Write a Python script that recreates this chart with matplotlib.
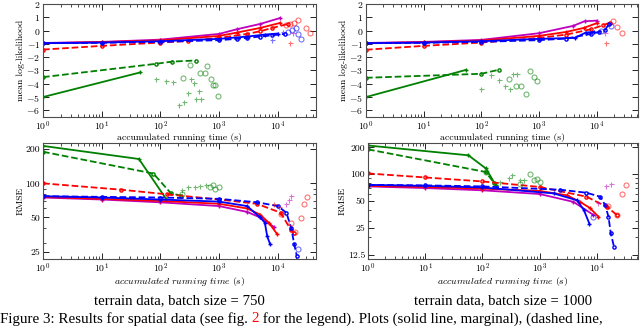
import numpy as np
import matplotlib
matplotlib.use("Agg")
import matplotlib.pyplot as plt
from matplotlib.ticker import FixedLocator, FixedFormatter, LogLocator, NullFormatter

plt.rcParams.update({
    "font.family": "serif",
    "font.serif": ["cmr10", "DejaVu Serif"],
    "mathtext.fontset": "cm",
    "axes.unicode_minus": False,
    "axes.formatter.use_mathtext": True,
    "xtick.direction": "in",
    "ytick.direction": "in",
    "xtick.top": True,
    "ytick.right": True,
    "font.size": 7,
})

GREEN, RED, MAG, BLUE = (0, 0.5, 0), (1, 0, 0), (0.75, 0, 0.75), (0, 0, 1)

# ---- mean log-likelihood, batch 750 ----
ll750_mag_t = [1, 10, 100, 1000, 2000, 5000, 11000]
ll750_mag_y = [-0.93, -0.85, -0.68, -0.25, 0.1, 0.5, 0.95]
ll750_red_t = [1, 10, 100, 1000, 2000, 5000, 11000]
ll750_red_y = [-0.95, -0.87, -0.74, -0.4, -0.15, 0.2, 0.58]
ll750_redd_t = [1, 10, 100, 300, 1000, 3000, 5000, 8000, 15000]
ll750_redd_y = [-1.43, -1.15, -0.9, -0.78, -0.55, -0.25, -0.05, 0.2, 0.5]
ll750_blue_t = [1, 10, 100, 1000, 3000, 6000, 10000]
ll750_blue_y = [-0.95, -0.9, -0.8, -0.62, -0.45, -0.3, -0.22]
ll750_blued_t = [1, 10, 100, 1000, 2000, 3000, 5000, 8000, 13000]
ll750_blued_y = [-0.95, -0.92, -0.85, -0.72, -0.62, -0.55, -0.45, -0.35, -0.25]
ll750_green_t = [1, 45]
ll750_green_y = [-5.0, -3.15]
ll750_greend_t = [1, 84, 160, 400]
ll750_greend_y = [-3.5, -2.5, -2.33, -2.25]
ll750_go_t = [316, 240, 480, 565, 620, 720, 790, 850, 960]
ll750_go_y = [-2.62, -3.57, -3.2, -3.2, -2.69, -3.63, -4.08, -4.1, -4.89]
ll750_gp_t = [84, 125, 166, 330, 370, 290, 450, 250, 206, 400, 490]
ll750_gp_y = [-3.67, -3.82, -3.9, -3.67, -3.93, -4.66, -4.55, -5.34, -5.57, -5.16, -5.16]
ll750_ro_t = [14000, 16000, 18600, 22400, 30400, 35700]
ll750_ro_y = [0.45, 0.5, 0.58, 0.78, 0.18, -0.17]
ll750_rp_t = [16200]
ll750_rp_y = [-0.9]
ll750_bo_t = [15000, 17300, 20000, 22200, 25000]
ll750_bo_y = [-0.1, 0.03, 0.17, -0.28, -0.63]
ll750_bp_t = [7900, 12300]
ll750_bp_y = [-0.74, -0.1]
ll750_mp_t = [18000]
ll750_mp_y = [-0.15]

# ---- mean log-likelihood, batch 1000 ----
ll1000_mag_t = [1, 10, 100, 1000, 3900, 6200, 10000]
ll1000_mag_y = [-0.93, -0.85, -0.7, -0.2, 0.35, 0.7, 0.75]
ll1000_red_t = [1, 10, 100, 1000, 3000, 6000, 10000]
ll1000_red_y = [-0.95, -0.88, -0.75, -0.4, -0.1, 0.2, 0.55]
ll1000_redd_t = [1, 10, 100, 1000, 3000, 8000, 13000, 17000]
ll1000_redd_y = [-1.44, -1.15, -0.9, -0.55, -0.3, 0.1, 0.4, 0.6]
ll1000_blue_t = [1, 10, 100, 1000, 4200, 6500, 9000]
ll1000_blue_y = [-0.95, -0.9, -0.8, -0.62, -0.55, -0.15, -0.1]
ll1000_blued_t = [1, 10, 100, 1000, 3000, 8000, 11000, 14000, 16500]
ll1000_blued_y = [-0.95, -0.92, -0.85, -0.72, -0.6, -0.25, -0.1, 0.05, 0.5]
ll1000_green_t = [1, 55]
ll1000_green_y = [-5.0, -2.95]
ll1000_greend_t = [1, 100, 200]
ll1000_greend_y = [-3.55, -3.25, -2.95]
ll1000_go_t = [300, 400, 490, 600, 710, 810, 930]
ll1000_go_y = [-3.62, -4.19, -4.19, -4.74, -3.06, -3.49, -3.82]
ll1000_gp_t = [100, 150, 200, 260, 310, 360, 415]
ll1000_gp_y = [-4.39, -3.37, -3.69, -4.19, -4.39, -3.3, -3.3]
ll1000_ro_t = [19000, 23000, 28000]
ll1000_ro_y = [0.75, 0.3, -0.2]
ll1000_rp_t = [14400]
ll1000_rp_y = [-0.92]
ll1000_bo_t = [12000, 18000]
ll1000_bo_y = [-0.05, 0.35]
ll1000_mp_t = [14000]
ll1000_mp_y = [-0.17]

# ---- RMSE, batch 750 ----
rm750_green_t = [1, 43, 125]
rm750_green_y = [214, 164, 73]
rm750_greend_t = [1, 76, 150, 220]
rm750_greend_y = [190, 122, 82, 78]
rm750_gp_t = [234, 300, 390, 480, 590]
rm750_gp_y = [87, 92, 93, 94, 96]
rm750_go_t = [234, 710, 800, 860, 980]
rm750_go_y = [80, 93, 96, 90, 93]
rm750_blue_t = [1, 10, 100, 1000, 3000, 5000, 6000, 6600, 7400]
rm750_blue_y = [77, 75, 72, 69, 63, 50, 45, 34, 29]
rm750_blued_t = [1, 10, 100, 1000, 4500, 10000, 14000, 17000, 19000, 21000]
rm750_blued_y = [77, 76, 75, 73, 68, 63, 55, 40, 29, 23]
rm750_red_t = [1, 10, 100, 1000, 3000, 5000, 7000, 9600]
rm750_red_y = [76, 73, 70, 66, 60, 53, 45, 36]
rm750_redd_t = [1, 21, 130, 1000, 4400, 11200, 16600, 19000]
rm750_redd_y = [100, 88, 80, 72, 66, 55, 39, 36.5]
rm750_mag_t = [1, 10, 100, 1000, 3000, 5000, 8700]
rm750_mag_y = [75, 72, 68, 63, 56, 50, 41]
rm750_ro_t = [11500, 16600, 19500, 24700, 28000, 31600]
rm750_ro_y = [54, 45, 37.5, 49, 66, 76]
rm750_rp_t = [8700, 10500]
rm750_rp_y = [66, 62]
rm750_mp_t = [13800, 15600, 16600]
rm750_mp_y = [66, 72, 77]
rm750_bo_t = [21800]
rm750_bo_y = [26.5]

# ---- RMSE, batch 1000 ----
rm1000_green_t = [1, 57, 115, 170]
rm1000_green_y = [210, 163, 116, 76]
rm1000_greend_t = [1, 114, 160]
rm1000_greend_y = [190, 106, 80]
rm1000_gp_t = [200, 290, 325, 455, 535]
rm1000_gp_y = [82, 90, 99, 87, 87]
rm1000_go_t = [114, 450, 670, 800, 890, 1000]
rm1000_go_y = [106, 78, 100, 86, 89, 82]
rm1000_blue_t = [1, 10, 100, 1750, 4500, 5900, 7400]
rm1000_blue_y = [76, 74, 71, 61, 51, 40, 28]
rm1000_blued_t = [1, 10, 100, 2300, 6600, 11400, 14000, 16000, 17500, 20000]
rm1000_blued_y = [76, 75, 73, 67, 62, 56, 45, 33.4, 22, 15.3]
rm1000_red_t = [1, 10, 100, 1000, 3000, 5100, 7500, 10700]
rm1000_red_y = [74, 72, 69, 65, 58, 49, 42, 33.4]
rm1000_redd_t = [1, 10, 100, 1000, 6600, 15000, 22400]
rm1000_redd_y = [102, 92, 83, 72, 56, 43, 35]
rm1000_mag_t = [1, 10, 100, 1000, 3900, 8700]
rm1000_mag_y = [73, 70, 66, 60, 49, 35]
rm1000_ro_t = [15800, 22400, 27600, 32700]
rm1000_ro_y = [44.5, 35, 60, 75.8]
rm1000_mp_t = [10300, 14500, 17400]
rm1000_mp_y = [47.3, 74, 77]
rm1000_bo_t = [8700]
rm1000_bo_y = [33]

ll_ticks = [-6, -5, -4, -3, -2, -1, 0, 1, 2]
rm750_ticks = [25, 50, 100, 200]
rm1000_ticks = [12.5, 25, 50, 100, 200]
rm1000_ticklabels = ["12.5", "25", "50", "100", "200"]
subtitles = ["terrain data, batch size = 750", "terrain data, batch size = 1000"]


def draw(ax, p):
    # arrays for one panel are looked up by their name prefix
    def g(k):
        return globals()[p + k]
    ax.plot(g("_greend_t"), g("_greend_y"), "--", color=GREEN, lw=1.3, marker="o", ms=2.3, mfc="none")
    ax.plot(g("_green_t"), g("_green_y"), "-", color=GREEN, lw=1.3, marker="+", ms=3)
    ax.plot(g("_mag_t"), g("_mag_y"), "-", color=MAG, lw=1.3, marker="+", ms=3)
    ax.plot(g("_redd_t"), g("_redd_y"), "--", color=RED, lw=1.3, marker="o", ms=2.3, mfc="none")
    ax.plot(g("_red_t"), g("_red_y"), "-", color=RED, lw=1.3, marker="+", ms=3)
    ax.plot(g("_blued_t"), g("_blued_y"), "--", color=BLUE, lw=1.3, marker="o", ms=2.3, mfc="none")
    ax.plot(g("_blue_t"), g("_blue_y"), "-", color=BLUE, lw=1.3, marker="+", ms=3)
    for key, col, mk in [("_go", GREEN, "o"), ("_gp", GREEN, "+"), ("_ro", RED, "o"),
                         ("_rp", RED, "+"), ("_bo", BLUE, "o"), ("_bp", BLUE, "+"),
                         ("_mp", MAG, "+")]:
        if p + key + "_t" in globals():
            ax.plot(g(key + "_t"), g(key + "_y"), linestyle="none", marker=mk, ms=3.6,
                    mfc="none", mec=col, mew=0.8, alpha=0.55)
    ax.set_xscale("log")
    ax.xaxis.set_minor_locator(LogLocator(base=10, subs=np.arange(2, 10)))
    ax.tick_params(which="major", length=4, width=0.6, labelsize=7, pad=2)
    ax.tick_params(which="minor", length=2, width=0.5)
    for s in ax.spines.values():
        s.set_linewidth(0.8)
        s.set_color("0.3")


fig = plt.figure(figsize=(6.4, 3.26), dpi=100)
W, H = 640.0, 326.0
pos = [(43, 4, 316, 117), (366, 4, 638, 117), (43, 143, 316, 259), (368, 143, 638, 259)]
axes = [fig.add_axes([l / W, 1 - b / H, (r - l) / W, (b - t) / H]) for l, t, r, b in pos]

for ax, p, xmax in zip(axes, ["ll750", "ll1000", "rm750", "rm1000"], [10**4.65, 10**4.72, 10**4.65, 10**4.72]):
    draw(ax, p)
    ax.set_xlim(1, xmax)

for ax in axes[:2]:
    ax.set_ylim(-6.5, 2)
    ax.set_yticks(ll_ticks)
    ax.set_ylabel("mean log-likelihood", fontsize=7, labelpad=1)
    ax.set_xlabel("accumulated running time (s)", fontsize=7, labelpad=0)

axes[2].set_yscale("log")
axes[2].set_ylim(21.5, 227)
axes[2].yaxis.set_major_locator(FixedLocator(rm750_ticks))
axes[2].yaxis.set_major_formatter(FixedFormatter([str(v) for v in rm750_ticks]))
axes[3].set_yscale("log")
axes[3].set_ylim(11.2, 224)
axes[3].yaxis.set_major_locator(FixedLocator(rm1000_ticks))
axes[3].yaxis.set_major_formatter(FixedFormatter(rm1000_ticklabels))
for ax in axes[2:]:
    ax.yaxis.set_minor_formatter(NullFormatter())
    ax.set_ylabel("RMSE", fontsize=7, labelpad=1)
    ax.set_xlabel(r"$accumulated\ running\ time\ (s)$", fontsize=7, labelpad=0)

for ax, s in zip(axes[2:], subtitles):
    bb = ax.get_position()
    fig.text((bb.x0 + bb.x1) / 2, 1 - 301 / H, s, ha="center", va="center",
             fontsize=10.6, family="Liberation Serif")

# figure caption along the bottom edge, "2" in red
renderer = fig.canvas.get_renderer()
cap_parts = [("Figure 3: Results for spatial data (see fig. ", "black"), ("2", "red"),
             (" for the legend). Plots (solid line, marginal), (dashed line,", "black")]
x = 0.0
for txt, col in cap_parts:
    t = fig.text(x, 0.5 / H, txt, ha="left", va="bottom", fontsize=10.8,
                 family="Liberation Serif", color=col)
    x += t.get_window_extent(renderer).width / W

fig.savefig("out.png", dpi=100)
